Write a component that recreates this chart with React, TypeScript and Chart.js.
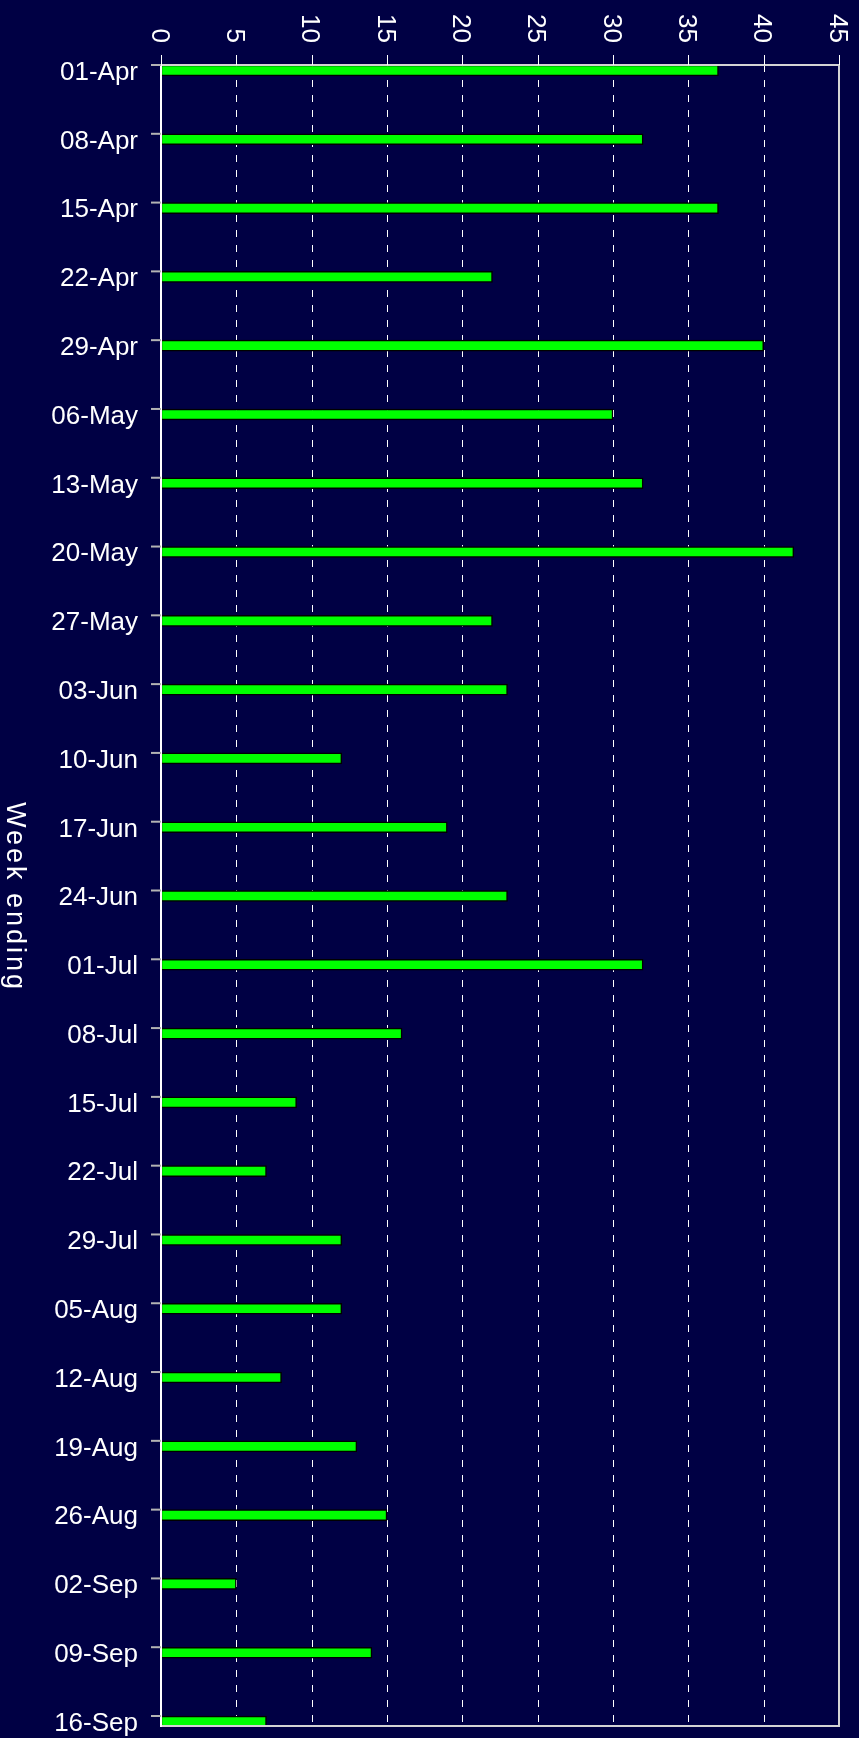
import React, { useEffect, useRef } from "react";
import { Chart, registerables } from "chart.js";

Chart.register(...registerables);

const CATEGORIES = [
  "01-Apr", "08-Apr", "15-Apr", "22-Apr", "29-Apr", "06-May", "13-May", "20-May",
  "27-May", "03-Jun", "10-Jun", "17-Jun", "24-Jun", "01-Jul", "08-Jul", "15-Jul",
  "22-Jul", "29-Jul", "05-Aug", "12-Aug", "19-Aug", "26-Aug", "02-Sep", "09-Sep", "16-Sep",
];
const VALUES = [37, 32, 37, 22, 40, 30, 32, 42, 22, 23, 12, 19, 23, 32, 16, 9, 7, 12, 12, 8, 13, 15, 5, 14, 7];
const X_TICKS = [0, 5, 10, 15, 20, 25, 30, 35, 40, 45];
const AXIS_TITLE = "Week ending";

const BG = "#000044";
const FONT = "'Liberation Sans', Arial, sans-serif";
const TOP_OFF = 5.5;
const BOTTOM_OFF = 4.5;

const decorPlugin = {
  id: "decor",
  beforeDraw(chart: any) {
    const { ctx, width, height } = chart;
    ctx.save();
    ctx.fillStyle = BG;
    ctx.fillRect(0, 0, width, height);
    ctx.restore();
  },
  beforeDatasetsDraw(chart: any) {
    const { ctx, chartArea: a } = chart;
    const x = chart.scales.x;
    const top = a.top - TOP_OFF;
    const bottom = a.bottom + BOTTOM_OFF;
    ctx.save();
    ctx.strokeStyle = "#ffffff";
    ctx.lineWidth = 1;
    ctx.setLineDash([7, 8]);
    X_TICKS.forEach((v) => {
      if (v <= X_TICKS[0] || v >= X_TICKS[X_TICKS.length - 1]) return;
      const px = Math.round(x.getPixelForValue(v)) + 0.5;
      ctx.beginPath();
      ctx.moveTo(px, top);
      ctx.lineTo(px, bottom);
      ctx.stroke();
    });
    ctx.restore();
  },
  afterDraw(chart: any) {
    const { ctx, chartArea: a } = chart;
    const x = chart.scales.x;
    const y = chart.scales.y;
    const top = a.top - TOP_OFF;
    const bottom = a.bottom + BOTTOM_OFF;
    ctx.save();

    ctx.strokeStyle = "#d4d4d4";
    ctx.lineWidth = 2;
    ctx.beginPath();
    ctx.moveTo(a.left, top);
    ctx.lineTo(a.right, top);
    ctx.lineTo(a.right, bottom);
    ctx.lineTo(a.left, bottom);
    ctx.stroke();

    ctx.strokeStyle = "#ffffff";
    ctx.lineWidth = 2;
    ctx.beginPath();
    ctx.moveTo(a.left, top);
    ctx.lineTo(a.left, bottom + 1);
    ctx.stroke();

    ctx.lineWidth = 1;
    ctx.strokeStyle = "#ffffff";
    X_TICKS.forEach((v) => {
      const px = Math.round(x.getPixelForValue(v)) + 0.5;
      ctx.beginPath();
      ctx.moveTo(px, top - 10);
      ctx.lineTo(px, top);
      ctx.stroke();
    });

    ctx.strokeStyle = "#b4b4b4";
    ctx.lineWidth = 2;
    CATEGORIES.forEach((_, i) => {
      const py = y.getPixelForValue(i) - TOP_OFF;
      ctx.beginPath();
      ctx.moveTo(a.left - 10, py);
      ctx.lineTo(a.left, py);
      ctx.stroke();
    });

    ctx.fillStyle = "#ffffff";
    ctx.font = `26px ${FONT}`;
    ctx.textAlign = "right";
    ctx.textBaseline = "alphabetic";
    CATEGORIES.forEach((c, i) => {
      const py = y.getPixelForValue(i);
      ctx.fillText(c, a.left - 23, py + 9.3);
    });

    X_TICKS.forEach((v) => {
      const px = x.getPixelForValue(v);
      ctx.save();
      ctx.translate(px, top - 22);
      ctx.rotate(Math.PI / 2);
      ctx.textAlign = "right";
      ctx.textBaseline = "alphabetic";
      ctx.fillText(String(v), 0, 9.5);
      ctx.restore();
    });

    ctx.save();
    ctx.font = `27px ${FONT}`;
    (ctx as any).letterSpacing = "3px";
    ctx.translate(7, (top + bottom) / 2);
    ctx.rotate(Math.PI / 2);
    ctx.textAlign = "center";
    ctx.textBaseline = "alphabetic";
    ctx.fillText(AXIS_TITLE, 1.5, 0);
    ctx.restore();

    ctx.restore();
  },
};

export default function App() {
  const canvasRef = useRef<HTMLCanvasElement | null>(null);

  useEffect(() => {
    if (!canvasRef.current) return;
    const chart = new Chart(canvasRef.current, {
      type: "bar",
      data: {
        labels: CATEGORIES,
        datasets: [
          {
            label: AXIS_TITLE,
            data: VALUES,
            backgroundColor: "#00ff00",
            borderColor: "#000000",
            borderWidth: 1.5,
            borderSkipped: false,
            barThickness: 11,
            clip: false,
          },
        ],
      },
      options: {
        indexAxis: "y",
        responsive: false,
        animation: false,
        devicePixelRatio: 1,
        layout: { padding: { top: 0, right: 20, bottom: 16.5, left: 0 } },
        plugins: {
          legend: { display: false },
          tooltip: { enabled: false },
          title: { display: false },
        },
        scales: {
          x: {
            type: "linear",
            position: "top",
            min: 0,
            max: 45,
            ticks: { display: false, stepSize: 5 },
            grid: { display: false },
            border: { display: false },
            afterFit: (scale: any) => {
              scale.height = 70.5;
            },
          },
          y: {
            type: "category",
            offset: false,
            ticks: { display: false },
            grid: { display: false },
            border: { display: false },
            afterFit: (scale: any) => {
              scale.width = 161;
            },
          },
        },
      },
      plugins: [decorPlugin],
    });
    return () => chart.destroy();
  }, []);

  return (
    <div style={{ position: "fixed", left: 0, top: 0, width: 859, height: 1738, background: BG }}>
      <canvas ref={canvasRef} width={859} height={1738} style={{ display: "block" }} />
    </div>
  );
}
